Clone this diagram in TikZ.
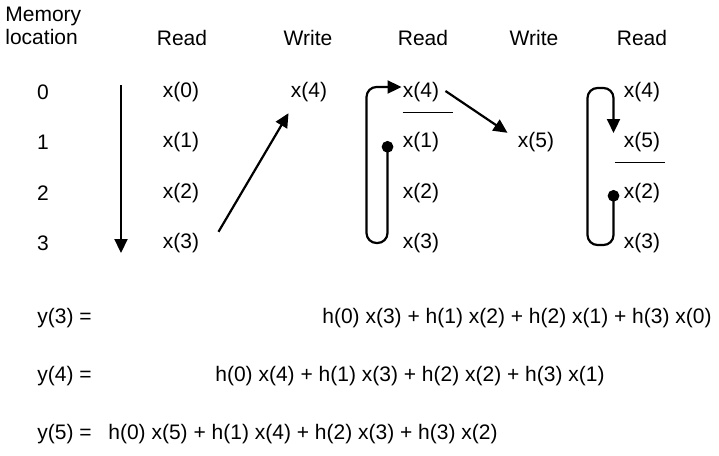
\documentclass[tikz,border=0pt]{standalone}
\usepackage{fontspec}
\setmainfont{Liberation Sans}
\usetikzlibrary{arrows.meta,calc}

\begin{document}
\begin{tikzpicture}[
  x=0.5pt, y=-0.5pt,
  font=\fontsize{10.5}{11.4}\selectfont,
  every node/.style={inner sep=0pt},
  eqn/.style={anchor=west},
  arr/.style={-{Triangle[length=7pt,width=6.5pt]}, line width=1.1pt},
  loopback/.style={{Circle[length=5.8pt]}-{Triangle[length=7pt,width=6.5pt]}, line width=1.1pt, rounded corners=5pt},
  sep/.style={line width=0.5pt}
]
\useasboundingbox (0,0) rectangle (719,456);

% column heads
\node[align=left, anchor=north west] (mem) at (5,7) {Memory\\location};
\node (hd1) at (182,38) {Read};
\node (hd2) at (308,38) {Write};
\node (hd3) at (423,38) {Read};
\node (hd4) at (534,38) {Write};
\node (hd5) at (642,38) {Read};

% memory locations and first read
\foreach \i/\y in {0/92,1/142,2/193,3/243} {
  \node (m\i) at (43,\y) {\i};
  \node (c1r\i) at (181,\y) {x(\i)};
}
\coordinate (dtop) at (121,85);
\coordinate (dbot) at (121,253);
\draw[arr] (dtop) -- (dbot);

% first write
\node (c2r0) at (309,92) {x(4)};
\draw[arr] ($(c1r3.north east)+(19,-1)$) -- ($(c2r0.south west)+(-2,11)$);

% second read
\node (c3r0) at (421,92) {x(4)};
\node (c3r1) at (421,142) {x(1)};
\node (c3r2) at (421,193) {x(2)};
\node (c3r3) at (421,243) {x(3)};
\draw[sep] ($(c3r0.south west)+(0,10)$) -- ++(50,0);
\draw[loopback] ($(c3r1.west)+(-15,-1)$) -- ++(0,102) -- ++(-21,0) -- ++(0,-156)
  -- ($(c3r0.west)+(-1,-5)$);

% second write
\node (c4r1) at (536,142) {x(5)};
\draw[arr] ($(c3r0.east)+(6,-1)$) -- ($(c4r1.north west)+(-10,1)$);

% third read
\node (c5r0) at (642,92) {x(4)};
\node (c5r1) at (642,142) {x(5)};
\node (c5r2) at (642,193) {x(2)};
\node (c5r3) at (642,243) {x(3)};
\draw[sep] ($(c5r1.south west)+(-9,10)$) -- ++(50,0);
\draw[loopback] ($(c5r2.west)+(-10,-3)$) -- ++(0,55) -- ++(-26,0) -- ++(0,-157) -- ++(26,0)
  -- ($(c5r1.west)+(-10,-9)$);

% outputs
\node[eqn] (y3) at (37,318) {y(3) =};
\node[eqn] (e3) at (322,318) {h(0) x(3) + h(1) x(2) + h(2) x(1) + h(3) x(0)};
\node[eqn] (y4) at (37,376) {y(4) =};
\node[eqn] (e4) at (215,376) {h(0) x(4) + h(1) x(3) + h(2) x(2) + h(3) x(1)};
\node[eqn] (y5) at (37,434) {y(5) =};
\node[eqn] (e5) at (108,434) {h(0) x(5) + h(1) x(4) + h(2) x(3) + h(3) x(2)};

\end{tikzpicture}
\end{document}
